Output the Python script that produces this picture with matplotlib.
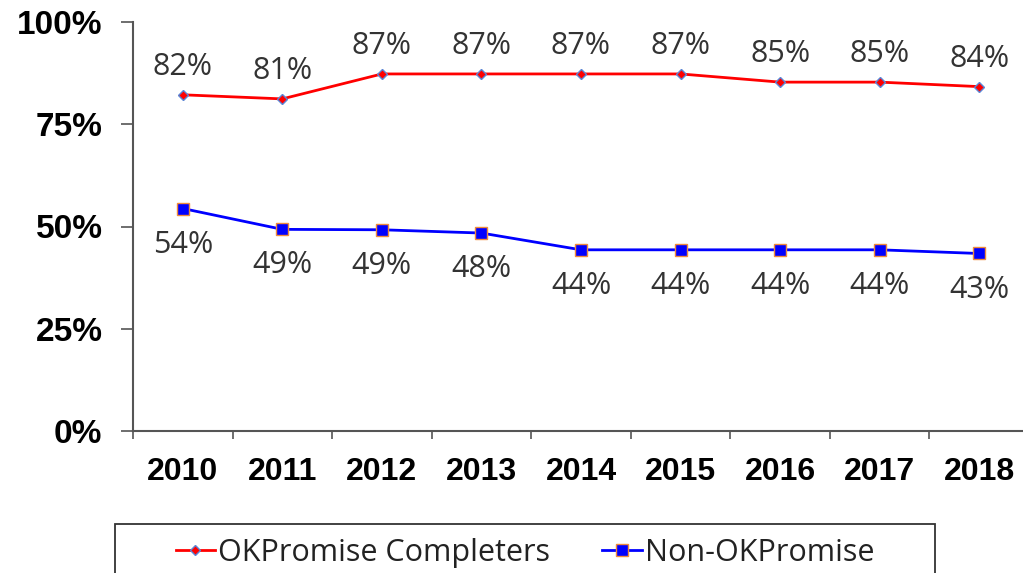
import matplotlib
matplotlib.use("Agg")
import matplotlib.pyplot as plt
from matplotlib.patches import Rectangle
from matplotlib.ticker import FixedLocator, NullFormatter

# data
years = ["2010", "2011", "2012", "2013", "2014", "2015", "2016", "2017", "2018"]
completers = [82.2, 81.2, 87.3, 87.3, 87.3, 87.3, 85.3, 85.3, 84.2]
non_promise = [54.4, 49.3, 49.2, 48.4, 44.3, 44.3, 44.3, 44.3, 43.4]
y_ticks = [0, 25, 50, 75, 100]

W, H = 1023, 573
fig = plt.figure(figsize=(W / 100, H / 100), dpi=100)
ax = fig.add_axes([133 / W, 1 - 431 / H, 896 / W, 409 / H])

lab_font = dict(family=["Open Sans", "DejaVu Sans"], color="#333333")
tick_font = dict(family=["Liberation Sans", "DejaVu Sans"], fontweight="bold")

x = list(range(len(years)))
ax.plot(x, completers, color="#ff0000", lw=2, marker="D", ms=5,
        mfc="#ff0000", mec="#5b86d6", mew=1, label="OKPromise Completers", clip_on=False)
ax.plot(x, non_promise, color="#0000ff", lw=2, marker="s", ms=9,
        mfc="#0000ff", mec="#f08a3c", mew=1, label="Non-OKPromise", clip_on=False)

for xi, v in zip(x, completers):
    ax.annotate(f"{v:.0f}%", (xi, v), xytext=(0, 20), textcoords="offset points",
                ha="center", va="center", fontsize=22, **lab_font)
for xi, v in zip(x, non_promise):
    ax.annotate(f"{v:.0f}%", (xi, v), xytext=(0, -26), textcoords="offset points",
                ha="center", va="center", fontsize=22, **lab_font)

ax.set_xlim(-0.5, len(years) - 0.5)
ax.set_ylim(0, 100)

ax.yaxis.set_major_locator(FixedLocator(y_ticks))
ax.set_yticklabels([f"{t}%" for t in y_ticks], fontsize=24, **tick_font)
ax.tick_params(axis="y", direction="out", length=9, width=1.2, color="#555555", pad=13)

ax.xaxis.set_major_locator(FixedLocator([i - 0.5 for i in range(len(years) + 1)]))
ax.xaxis.set_major_formatter(NullFormatter())
ax.xaxis.set_minor_locator(FixedLocator(x))
ax.set_xticklabels(years, minor=True, fontsize=23, **tick_font)
ax.tick_params(axis="x", which="minor", length=0, pad=19)
ax.tick_params(axis="x", which="major", direction="out", length=6, width=1.2, color="#555555")

for s in ["top", "right"]:
    ax.spines[s].set_visible(False)
for s in ["left", "bottom"]:
    ax.spines[s].set_color("#555555")
    ax.spines[s].set_linewidth(1.5)

# legend box runs off the bottom of the picture
fig.patches.append(Rectangle((115 / W, -0.05), 820 / W, (573 - 524) / H + 0.05,
                             transform=fig.transFigure, fill=False,
                             edgecolor="#333333", linewidth=1.3))
leg = fig.legend(loc="center", bbox_to_anchor=(525 / W, 1 - 553 / H), ncol=2,
                 frameon=False, handlelength=1.3, handletextpad=0.1,
                 columnspacing=1.7, borderpad=0, borderaxespad=0,
                 prop=dict(family=["Open Sans", "DejaVu Sans"], size=22))
for t in leg.get_texts():
    t.set_color("#222222")

fig.savefig("out.png", dpi=100)
